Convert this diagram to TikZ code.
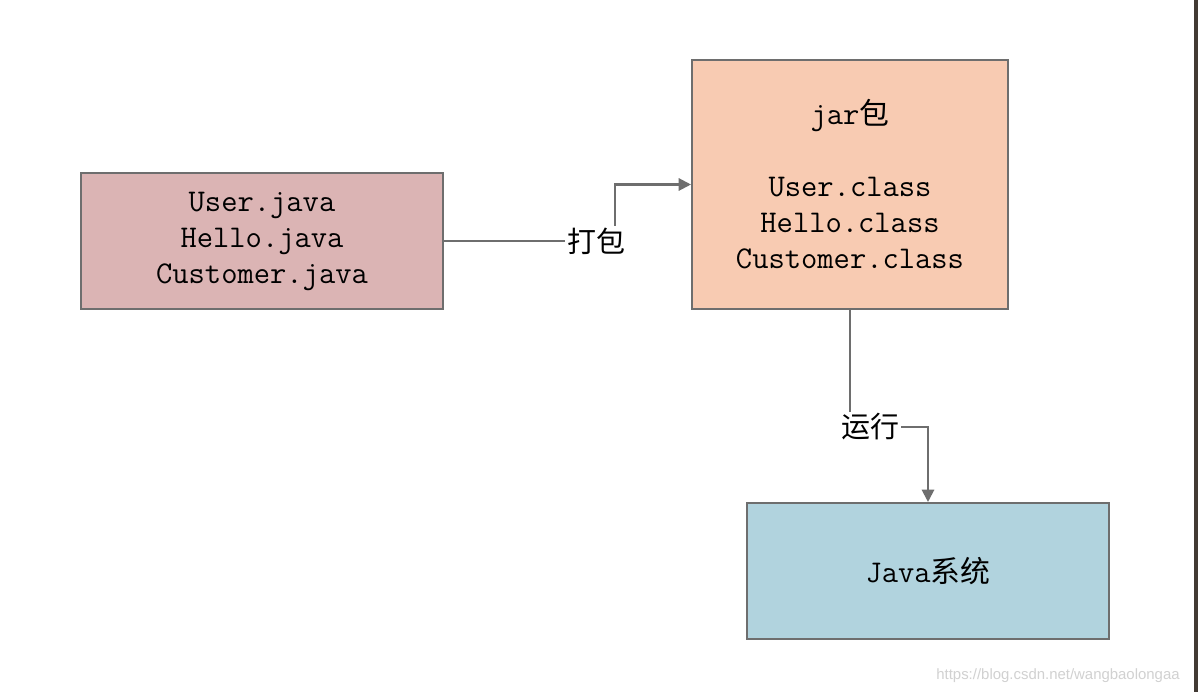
\documentclass[tikz,border=0pt]{standalone}
\usepackage{fontspec}
\newfontfamily\cjk{Noto Sans CJK SC}
\newfontfamily\wmfont{Liberation Sans}
\usetikzlibrary{arrows.meta}
\definecolor{srcpink}{RGB}{219,180,180}
\definecolor{jarpeach}{RGB}{248,203,178}
\definecolor{sysblue}{RGB}{177,211,222}
\definecolor{edgegray}{RGB}{110,110,110}
\definecolor{stripdark}{RGB}{66,58,52}

\begin{document}
\begin{tikzpicture}[x=0.02cm,y=-0.02cm,
	box/.style={draw=edgegray,line width=1.2pt,inner sep=0pt,align=center,
		font=\ttfamily\fontsize{18}{20.5}\selectfont},
	conn/.style={draw=edgegray,line width=1.2pt,-{Triangle[length=7pt,width=7pt]}},
	lbl/.style={fill=white,inner sep=1pt,font=\cjk\fontsize{16.5}{18}\selectfont}]
	\useasboundingbox (0,0) rectangle (1198,692);
	\fill[white] (0,0) rectangle (1198,692);
	\fill[stripdark] (1194,0) rectangle (1198,692);
	% boxes
	\node[box,fill=srcpink,minimum width=7.24cm,minimum height=2.72cm] (src) at (262,241)
		{User.java\\Hello.java\\Customer.java};
	\node[box,fill=jarpeach,minimum width=6.32cm,minimum height=4.98cm] (jar) at (850,184.5)
		{jar{\cjk\fontsize{17}{20.5}\selectfont 包}\\[20.5pt]User.class\\Hello.class\\Customer.class};
	\node[box,fill=sysblue,minimum width=7.24cm,minimum height=2.72cm] (sys) at (928,571)
		{Java{\cjk\fontsize{17}{20.5}\selectfont 系统}};
	% connectors
	\coordinate (packbend) at (615,184.5);
	\coordinate (runbend) at (928,427);
	\draw[conn] (src.east) -| (packbend) -- (jar.west);
	\draw[conn] (jar.south) |- (runbend) -- (sys.north);
	\node[lbl] (pack) at (596,241) {打包};
	\node[lbl] (run) at (870,427) {运行};
	\node[font=\wmfont\fontsize{8.5}{10}\selectfont,text=black!18] (mark) at (1058,676)
		{https://blog.csdn.net/wangbaolongaa};
\end{tikzpicture}
\end{document}
